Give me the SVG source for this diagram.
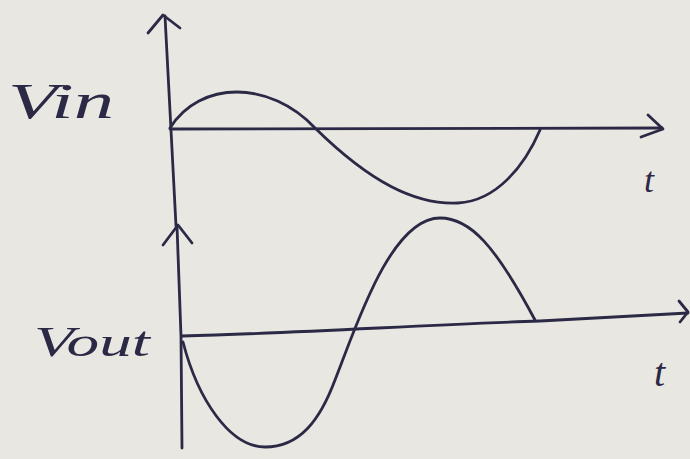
<svg xmlns="http://www.w3.org/2000/svg" width="690" height="459" viewBox="0 0 690 459">
<style>
.ink{fill:none;stroke:#2b2945;stroke-width:2.8;stroke-linecap:round;stroke-linejoin:round}
.lbl{font-family:"Liberation Serif",serif;font-style:italic;fill:#2b2945}
</style>
<rect width="690" height="459" fill="#e9e7e2"/>
<g id="axes">
<path class="ink" d="M165,16 L171,130 L176,226"/>
<path class="ink" d="M148,33 L163,15 L180,28"/>
<path class="ink" d="M170,129 L662,128"/>
<path class="ink" d="M648,115 L663,129 L641,137"/>
<path class="ink" d="M177,226 L181,336 L182,448"/>
<path class="ink" d="M163,245 L178,225 L192,243"/>
<path class="ink" d="M182,336 C300,333 420,325 540,321 C600,318 650,315 688,313"/>
<path class="ink" d="M679,301 L688,312 L680,322"/>
</g>
<g id="curves">
<path class="ink" d="M170,128 C200,80 270,80 315,128 C370,182 415,205 458,203 C497,201 525,165 540,130"/>
<path class="ink" d="M183,342 C198,400 230,447 265,447 C300,447 320,420 335,380 C355,330 390,218 440,218 C470,218 495,245 535,320"/>
</g>
<g id="labels">
<text class="lbl" x="8" y="118" font-size="50" textLength="106" lengthAdjust="spacingAndGlyphs">Vin</text>
<text class="lbl" x="34" y="356" font-size="42" textLength="116" lengthAdjust="spacingAndGlyphs">Vout</text>
<text class="lbl" x="644" y="192" font-size="36">t</text>
<text class="lbl" x="654" y="386" font-size="40">t</text>
</g>
</svg>
